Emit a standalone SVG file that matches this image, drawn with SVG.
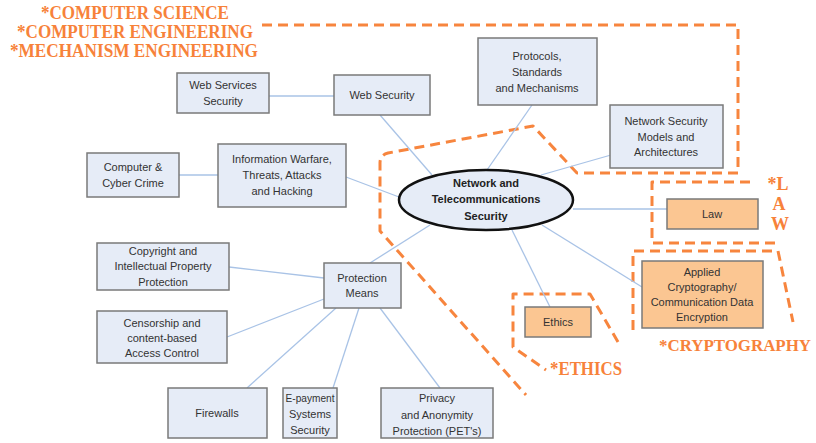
<svg xmlns="http://www.w3.org/2000/svg" width="816" height="443" viewBox="0 0 816 443">
<style>
.n{fill:#e6ecf7;stroke:#7a7a7a;stroke-width:1.5}
.o{fill:#fbc692;stroke:#7a7a7a;stroke-width:1.5}
.t{font-family:"Liberation Sans",Arial,sans-serif;font-size:11px;fill:#333;text-anchor:middle}
.b{font-weight:bold;fill:#222}
.c{stroke:#a9c3e6;stroke-width:1.3;fill:none}
.d{stroke:#f7853e;stroke-width:3;fill:none;stroke-dasharray:10 6;stroke-linejoin:round}
.l{font-family:"Liberation Serif","Times New Roman",serif;font-weight:bold;font-size:18px;fill:#f7823a}
</style>
<rect width="816" height="443" fill="#fff"/>
<g id="regions">
<path class="d" d="M262,25 H738 V173 H577 L533,126 L388,153 Q380,155 380,163 V231 L526,395"/>
<path class="d" d="M750,182 H652 V243 H778"/>
<path class="d" d="M633,330 V251 H778 L793,322"/>
<path class="d" d="M618,342 L590,294 H513 V347 L546,370"/>
</g>
<g id="region-labels">
<text class="l" x="135" y="19" text-anchor="middle" textLength="188" lengthAdjust="spacingAndGlyphs">*COMPUTER SCIENCE</text>
<text class="l" x="135" y="38" text-anchor="middle" textLength="236" lengthAdjust="spacingAndGlyphs">*COMPUTER ENGINEERING</text>
<text class="l" x="134" y="57" text-anchor="middle" textLength="248" lengthAdjust="spacingAndGlyphs">*MECHANISM ENGINEERING</text>
<text class="l" x="778" y="190" text-anchor="middle">*L</text>
<text class="l" x="779" y="210" text-anchor="middle">A</text>
<text class="l" x="780" y="230" text-anchor="middle">W</text>
<text class="l" x="659" y="351" style="font-size:16.5px" textLength="152" lengthAdjust="spacingAndGlyphs">*CRYPTOGRAPHY</text>
<text class="l" x="586" y="375" text-anchor="middle" textLength="72" lengthAdjust="spacingAndGlyphs">*ETHICS</text>
</g>
<g id="connectors">
<line class="c" x1="269" y1="96" x2="334" y2="96"/>
<line class="c" x1="380" y1="115" x2="432" y2="175"/>
<line class="c" x1="532" y1="105" x2="487" y2="170"/>
<line class="c" x1="611" y1="155" x2="541" y2="175"/>
<line class="c" x1="179" y1="175" x2="218" y2="175"/>
<line class="c" x1="346" y1="177" x2="399" y2="197"/>
<line class="c" x1="573" y1="209" x2="667" y2="209"/>
<line class="c" x1="542" y1="225" x2="642" y2="287"/>
<line class="c" x1="512" y1="230" x2="550" y2="307"/>
<line class="c" x1="430" y1="225" x2="370" y2="263"/>
<line class="c" x1="229" y1="267" x2="324" y2="278"/>
<line class="c" x1="227" y1="337" x2="324" y2="299"/>
<line class="c" x1="336" y1="308" x2="247" y2="388"/>
<line class="c" x1="359" y1="308" x2="333" y2="388"/>
<line class="c" x1="380" y1="308" x2="440" y2="388"/>
</g>
<g id="center"><ellipse cx="486" cy="200" rx="87" ry="30" fill="#e6ecf7" stroke="#111" stroke-width="2.5"/>
<text class="t b" x="486" y="187">Network and</text><text class="t b" x="486" y="203">Telecommunications</text><text class="t b" x="486" y="220">Security</text></g>
<g id="web-services"><rect class="n" x="177" y="73" width="92" height="40"/><text class="t" x="223" y="89">Web Services</text><text class="t" x="223" y="105">Security</text></g>
<g id="web-security"><rect class="n" x="334" y="75" width="96" height="40"/><text class="t" x="382" y="99">Web Security</text></g>
<g id="protocols"><rect class="n" x="478" y="38" width="119" height="67"/><text class="t" x="537" y="60">Protocols,</text><text class="t" x="537" y="76">Standards</text><text class="t" x="537" y="92">and Mechanisms</text></g>
<g id="models"><rect class="n" x="610" y="105" width="113" height="63"/><text class="t" x="666" y="125">Network Security</text><text class="t" x="666" y="141">Models and</text><text class="t" x="666" y="156">Architectures</text></g>
<g id="cybercrime"><rect class="n" x="87" y="153" width="92" height="44"/><text class="t" x="133" y="171">Computer &amp;</text><text class="t" x="133" y="187">Cyber Crime</text></g>
<g id="warfare"><rect class="n" x="218" y="144" width="128" height="63"/><text class="t" x="282" y="163">Information Warfare,</text><text class="t" x="282" y="179">Threats, Attacks</text><text class="t" x="282" y="195">and Hacking</text></g>
<g id="law"><rect class="o" x="667" y="199" width="91" height="30"/><text class="t" x="712" y="218">Law</text></g>
<g id="crypto"><rect class="o" x="642" y="261" width="121" height="67"/><text class="t" x="702" y="276">Applied</text><text class="t" x="702" y="291">Cryptography/</text><text class="t" x="702" y="306">Communication Data</text><text class="t" x="702" y="321">Encryption</text></g>
<g id="ethics"><rect class="o" x="525" y="307" width="66" height="30"/><text class="t" x="558" y="326">Ethics</text></g>
<g id="copyright"><rect class="n" x="97" y="243" width="132" height="47"/><text class="t" x="163" y="255">Copyright and</text><text class="t" x="163" y="270">Intellectual Property</text><text class="t" x="163" y="286">Protection</text></g>
<g id="censorship"><rect class="n" x="97" y="311" width="130" height="52"/><text class="t" x="162" y="327">Censorship and</text><text class="t" x="162" y="342">content-based</text><text class="t" x="162" y="357">Access Control</text></g>
<g id="protection"><rect class="n" x="324" y="263" width="77" height="45"/><text class="t" x="362" y="282">Protection</text><text class="t" x="362" y="297">Means</text></g>
<g id="firewalls"><rect class="n" x="168" y="388" width="99" height="50"/><text class="t" x="217" y="417">Firewalls</text></g>
<g id="epayment"><rect class="n" x="283" y="388" width="54" height="50"/><text class="t" x="310" y="402" textLength="49" lengthAdjust="spacingAndGlyphs">E-payment</text><text class="t" x="310" y="418">Systems</text><text class="t" x="310" y="434">Security</text></g>
<g id="privacy"><rect class="n" x="381" y="388" width="112" height="50"/><text class="t" x="437" y="402">Privacy</text><text class="t" x="437" y="419">and Anonymity</text><text class="t" x="437" y="435">Protection (PET's)</text></g>
</svg>
